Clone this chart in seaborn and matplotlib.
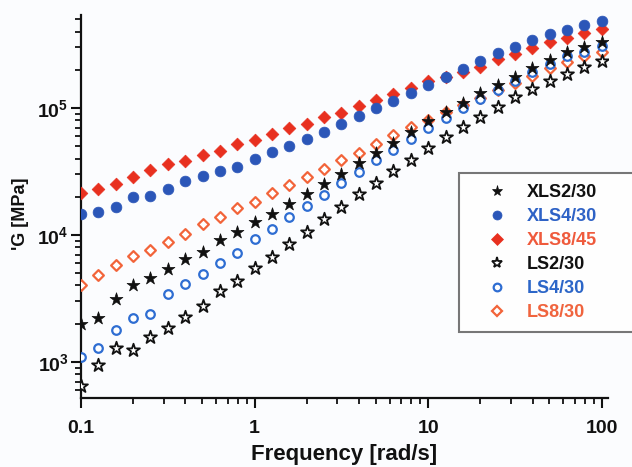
import matplotlib
matplotlib.use("Agg")
import matplotlib.pyplot as plt
import seaborn as sns
import numpy as np
import pandas as pd
from matplotlib.lines import Line2D
from matplotlib.ticker import LogLocator, FixedLocator, FuncFormatter, NullFormatter

# ---------------- data ----------------
freq = [0.1, 0.1259, 0.1585, 0.1995, 0.2512, 0.3162, 0.3981, 0.5012, 0.631, 0.7943,
        1.0, 1.259, 1.585, 1.995, 2.512, 3.162, 3.981, 5.012, 6.31, 7.943,
        10.0, 12.59, 15.85, 19.95, 25.12, 31.62, 39.81, 50.12, 63.1, 79.43, 100.0]

xls2_30 = [1980, 2210, 3130, 4040, 4600, 5370, 6410, 7390, 9180, 10470,
           12540, 14630, 17450, 21100, 25300, 30400, 36700, 43980, 53300, 64450,
           78300, 93000, 110100, 130600, 152500, 174900, 204700, 238800, 277500, 302000, 328900]
xls4_30 = [14550, 15250, 16700, 20030, 20280, 22900, 26600, 29300, 32100, 34500,
           39700, 45300, 50500, 57000, 64700, 74800, 86500, 99500, 113500, 130600,
           151700, 175400, 202200, 234400, 269700, 302000, 345100, 384600, 409300, 450700, 481600]
xls8_45 = [21600, 23000, 25400, 28400, 32500, 35900, 38300, 42700, 46100, 52100,
           56000, 62100, 69200, 75200, 84200, 91800, 103700, 115600, 128200, 142900,
           163300, 175400, 192000, 211500, 243900, 266100, 297800, 328000, 354000, 387300, 417300]
ls2_30 = [647, 947, 1296, 1243, 1582, 1842, 2274, 2761, 3624, 4365,
          5470, 6650, 8550, 10520, 13310, 16610, 20950, 25820, 32050, 38970,
          48170, 58900, 71230, 85380, 101300, 121400, 140300, 163700, 186200, 211500, 233300]
ls4_30 = [1100, 1282, 1786, 2233, 2375, 3413, 4090, 4906, 6050, 7175,
          9250, 11110, 13780, 16910, 20800, 25660, 31050, 38620, 46700, 56700,
          69200, 82970, 99500, 118100, 139300, 163300, 191400, 221300, 255300, 277500, 306900]
ls8_30 = [4060, 4840, 5780, 6800, 7660, 8780, 10240, 12210, 13780, 16230,
          18290, 21300, 24760, 28630, 33200, 38620, 44220, 52360, 60730, 70610,
          80720, 93000, 104700, 119900, 137400, 156400, 179400, 205500, 229500, 255300, 277500]

series_names = ["XLS2/30", "XLS4/30", "XLS8/45", "LS2/30", "LS4/30", "LS8/30"]
series_values = [xls2_30, xls4_30, xls8_45, ls2_30, ls4_30, ls8_30]

x_ticks = [0.1, 1, 10, 100]
x_tick_labels = ["0.1", "1", "10", "100"]
y_ticks = [1e3, 1e4, 1e5]

# ---------------- styles ----------------
styles = {
    "XLS2/30": dict(marker="*", face="#111111", edge="#111111", size=95, lw=0.5, text="#111111"),
    "XLS4/30": dict(marker="o", face="#2b56b8", edge="#2b56b8", size=60, lw=0.5, text="#2e62c6"),
    "XLS8/45": dict(marker="D", face="#e8301f", edge="#e8301f", size=42, lw=0.5, text="#ef5a3c"),
    "LS2/30":  dict(marker="*", face="white", edge="#111111", size=95, lw=1.3, text="#111111"),
    "LS4/30":  dict(marker="o", face="white", edge="#2e6dd2", size=38, lw=1.6, text="#2c66c8"),
    "LS8/30":  dict(marker="D", face="white", edge="#f2643a", size=30, lw=1.6, text="#f0643e"),
}

bg = "#fbfcfe"
sns.set_theme(style="ticks")
plt.rcParams["font.family"] = ["Liberation Sans", "DejaVu Sans"]
plt.rcParams["mathtext.fontset"] = "custom"
plt.rcParams["mathtext.rm"] = "Liberation Sans:bold"
plt.rcParams["mathtext.bf"] = "Liberation Sans:bold"

fig = plt.figure(figsize=(6.32, 4.67), dpi=100, facecolor=bg)
ax = fig.add_axes([81 / 632, 1 - 398 / 467, (608 - 81) / 632, (398 - 15) / 467])
ax.set_facecolor(bg)

frames = []
for name, vals in zip(series_names, series_values):
    frames.append(pd.DataFrame({"freq": freq, "G": vals, "series": name}))
df = pd.concat(frames, ignore_index=True)

# draw in order so filled markers sit behind outlined ones as in reference
draw_order = ["XLS8/45", "XLS4/30", "LS8/30", "LS4/30", "LS2/30", "XLS2/30"]
for name in draw_order:
    st = styles[name]
    sub = df[df["series"] == name]
    sns.scatterplot(data=sub, x="freq", y="G", ax=ax, marker=st["marker"],
                    s=st["size"], color=st["face"], edgecolor=st["edge"],
                    linewidth=st["lw"], legend=False, zorder=3)

ax.set_xscale("log")
ax.set_yscale("log")
ax.set_xlim(0.1, 108.7)
ax.set_ylim(520, 5.4e5)

for side in ["top", "right"]:
    ax.spines[side].set_visible(False)
for side in ["left", "bottom"]:
    ax.spines[side].set_linewidth(1.6)
    ax.spines[side].set_color("#111111")

ax.xaxis.set_major_locator(FixedLocator(x_ticks))
ax.xaxis.set_major_formatter(FuncFormatter(lambda v, p: x_tick_labels[x_ticks.index(v)] if v in x_ticks else ""))
ax.xaxis.set_minor_locator(LogLocator(base=10, subs=np.arange(2, 10), numticks=20))
ax.xaxis.set_minor_formatter(NullFormatter())
ax.yaxis.set_major_locator(FixedLocator(y_ticks))
ax.yaxis.set_major_formatter(FuncFormatter(lambda v, p: r"$\mathbf{10^{%d}}$" % int(round(np.log10(v)))))
ax.yaxis.set_minor_locator(LogLocator(base=10, subs=np.arange(2, 10), numticks=20))
ax.yaxis.set_minor_formatter(NullFormatter())

ax.tick_params(which="major", direction="out", length=7, width=1.5, color="#111111")
ax.tick_params(which="minor", direction="out", length=4, width=1.3, color="#111111")
ax.tick_params(axis="x", which="major", labelsize=14, pad=9)
ax.tick_params(axis="y", which="major", pad=2, labelsize=14)
for lab in ax.get_xticklabels() + ax.get_yticklabels():
    lab.set_fontweight("bold")
    lab.set_color("#111111")

ax.set_xlabel("Frequency [rad/s]", fontsize=16, fontweight="bold", color="#111111", labelpad=5)
ax.set_ylabel("'G [MPa]", fontsize=13, fontweight="bold", color="#111111")
ax.yaxis.set_label_coords(-0.098, 0.48)

handles = []
for name in series_names:
    st = styles[name]
    ms = 8 if st["marker"] == "*" else (6.5 if st["marker"] == "o" else 6)
    if name in ("LS4/30", "LS8/30"):
        ms = 5.5
    handles.append(Line2D([], [], linestyle="none", marker=st["marker"], markersize=ms,
                          markerfacecolor=st["face"], markeredgecolor=st["edge"],
                          markeredgewidth=st["lw"] if st["face"] == "white" else 0.5))
leg = fig.legend(handles, series_names, loc="upper left",
                 bbox_to_anchor=(459 / 632, 1 - 173 / 467, (640 - 459) / 632, 0.0),
                 mode="expand", borderaxespad=0, frameon=True, fancybox=False,
                 prop=dict(size=13, weight="bold"), handletextpad=0.15, labelspacing=0.39,
                 borderpad=0.6, handlelength=3.0, facecolor="white", edgecolor="#555555")
leg.get_frame().set_linewidth(1.5)
for txt, name in zip(leg.get_texts(), series_names):
    txt.set_color(styles[name]["text"])

fig.savefig("out.png", dpi=100, facecolor=bg)
